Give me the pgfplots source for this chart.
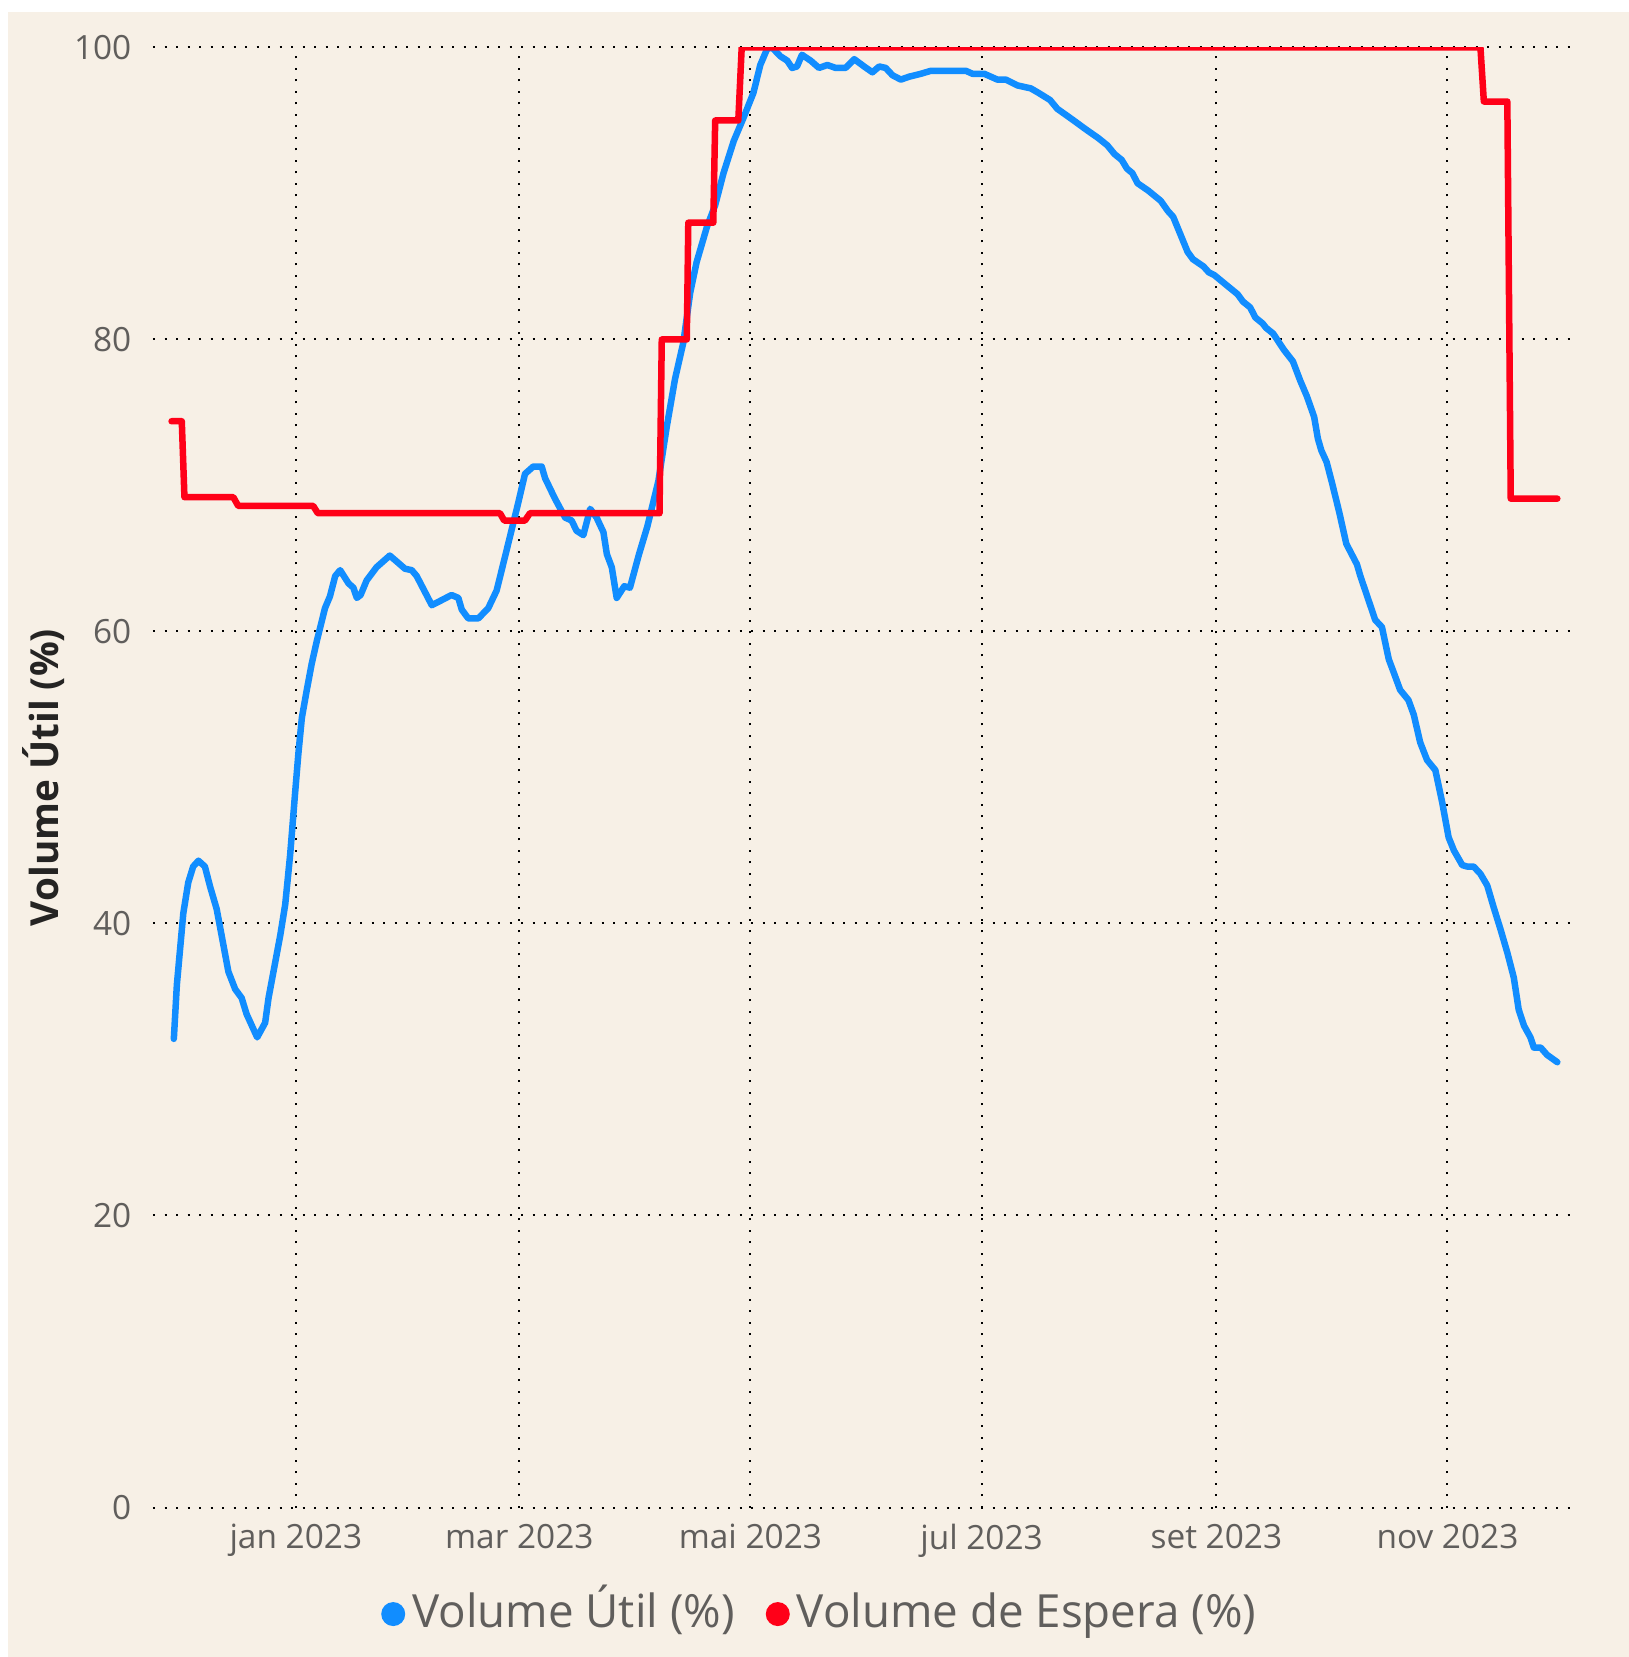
\documentclass[border=0pt]{standalone}
\usepackage{fontspec}
\setmainfont{Open Sans}
\usepackage{pgfplots}
\pgfplotsset{compat=1.18}
\definecolor{bgbeige}{HTML}{F7F0E6}
\definecolor{pbblue}{HTML}{118DFF}
\definecolor{pbred}{HTML}{FF0018}
\definecolor{ticktext}{HTML}{605E5C}
\definecolor{titletext}{HTML}{252423}
\begin{document}
\begin{tikzpicture}[x=1mm,y=1mm]
\fill[white] (0,0) rectangle (162.9,165.7);
\fill[bgbeige] (0.8,0) rectangle (162.9,164.5);
\begin{axis}[
  at={(15.3mm,14.95mm)}, anchor=south west,
  scale only axis, width=142.1mm, height=146mm,
  xmin=-37.7, xmax=337.4, ymin=0, ymax=100,
  axis line style={draw=none},
  major tick length=0pt,
  xtick={0,59,120,181,243,304},
  xticklabels={jan 2023,mar 2023,mai 2023,jul 2023,set 2023,nov 2023},
  ytick={0,20,40,60,80,100},
  /pgf/number format/assume math mode=true,
  tick label style={font=\fontsize{9.5pt}{11pt}\selectfont, text=ticktext},
  yticklabel style={anchor=east, inner sep=0pt, xshift=-2.1mm},
  xticklabel style={anchor=north, inner sep=0pt, yshift=-1.6mm},
  grid=major,
  major grid style={black, line width=0.2mm, line cap=butt, dash pattern=on 0.2mm off 0.95mm},
  ylabel={Volume Útil (\%)},
  ylabel style={at={(axis description cs:-0.0767,0.5)}, anchor=center, font=\fontsize{11pt}{13pt}\selectfont\bfseries, text=titletext},
  legend columns=2,
  legend style={at={(axis description cs:0.471,-0.073)}, anchor=center, draw=none, fill=none,
    font=\fontsize{13pt}{16pt}\selectfont, text=ticktext,
    nodes={text height=1em, text depth=0.25em},
    /tikz/every even column/.append style={column sep=2.4mm},
    /tikz/every odd column/.append style={column sep=0mm}},
  legend image code/.code={\fill[#1, draw=none] (1.3mm,0mm) circle (1.2mm);},
  legend cell align=left,
]
\addplot[pbblue, line width=1.85pt, line join=round, line cap=round] coordinates {
(-32.2,32.1) (-31.4,35.8) (-29.7,40.7) (-28.4,42.8) (-27.1,43.9) (-25.7,44.3) (-24.0,43.9) (-22.6,42.5)
(-20.9,41.0) (-19.6,39.2) (-17.8,36.7) (-16.0,35.5) (-14.3,34.9) (-13.0,33.8) (-10.2,32.2) (-8.1,33.2)
(-7.2,34.9) (-5.9,36.7) (-4.1,39.2) (-2.8,41.3) (-1.5,44.7) (-0.2,48.9) (0.7,51.7) (1.6,54.1)
(2.9,56.0) (4.2,57.8) (5.5,59.3) (7.7,61.6) (9.0,62.4) (10.4,63.8) (11.7,64.2) (13.9,63.3)
(15.2,63.0) (16.1,62.3) (17.1,62.5) (18.7,63.5) (21.3,64.4) (24.8,65.2) (26.6,64.8) (28.8,64.3)
(30.6,64.2) (31.9,63.8) (35.9,61.8) (38.9,62.2) (41.1,62.5) (42.9,62.3) (43.8,61.5) (45.5,60.9)
(48.2,60.9) (50.8,61.6) (53.0,62.8) (55.2,65.1) (57.0,67.0) (58.7,68.8) (60.5,70.8) (62.7,71.3)
(64.9,71.3) (65.8,70.5) (68.4,69.1) (71.1,67.8) (72.8,67.6) (74.1,66.9) (75.9,66.6) (77.7,68.4)
(79.4,67.8) (81.2,66.8) (82.1,65.3) (83.4,64.4) (84.7,62.3) (86.7,63.1) (88.2,63.0) (90.6,65.3)
(92.8,67.2) (95.7,70.3) (97.9,74.0) (100.1,77.3) (102.3,79.8) (104.1,83.2) (105.8,85.3) (108.5,87.7)
(110.7,89.2) (112.9,91.4) (115.6,93.6) (118.2,95.2) (120.8,96.9) (122.6,98.8) (124.4,99.9) (125.7,100)
(127.9,99.4) (129.7,99.1) (131.0,98.6) (132.3,98.7) (133.6,99.5) (135.9,99.1) (138.1,98.6) (140.3,98.8)
(142.5,98.6) (145.1,98.6) (147.4,99.2) (150.0,98.7) (152.2,98.3) (154.0,98.7) (155.7,98.6) (157.5,98.1)
(159.7,97.8) (161.9,98.0) (165.0,98.2) (167.6,98.4) (176.9,98.4) (178.6,98.2) (181.7,98.2) (185.2,97.8)
(187.4,97.8) (190.5,97.4) (194.0,97.2) (196.0,96.9) (199.1,96.4) (201.0,95.8) (204.8,95.1) (208.5,94.4)
(211.8,93.8) (214.2,93.3) (216.1,92.7) (218.0,92.3) (219.4,91.7) (220.8,91.4) (222.2,90.7) (225.0,90.2)
(228.3,89.5) (230.2,88.8) (231.6,88.4) (233.5,87.2) (235.4,86.0) (236.8,85.5) (239.6,85.0) (241.0,84.6)
(242.5,84.4) (245.3,83.8) (248.6,83.1) (250.0,82.6) (251.9,82.2) (253.3,81.5) (255.2,81.1) (256.1,80.8)
(258.0,80.4) (260.8,79.3) (263.2,78.5) (265.1,77.2) (266.9,76.1) (268.8,74.7) (269.8,73.2) (270.7,72.4)
(272.1,71.6) (273.5,70.2) (275.4,68.2) (277.3,66.0) (278.7,65.3) (280.1,64.6) (281.0,63.8) (282.7,62.5)
(284.0,61.5) (284.9,60.8) (286.7,60.3) (288.5,58.1) (289.8,57.2) (291.5,56.0) (293.7,55.3) (295.1,54.3)
(296.8,52.4) (298.6,51.2) (300.8,50.5) (302.6,48.3) (304.3,45.9) (305.7,45.0) (307.9,44.0) (309.2,43.9)
(310.9,43.9) (312.7,43.4) (314.5,42.6) (316.2,41.1) (318.0,39.6) (319.8,38.0) (321.5,36.3) (322.8,34.1)
(324.2,33.0) (325.9,32.2) (326.8,31.5) (328.6,31.5) (330.3,31.0) (333.0,30.5)
};
\addlegendentry{Volume Útil (\%)}
\addplot[pbred, line width=1.85pt, line join=round, line cap=round] coordinates {
(-32.8,74.4) (-30.1,74.4) (-29.4,69.2) (-16.5,69.2) (-15.2,68.6) (4.6,68.6) (5.8,68.1) (53.9,68.1)
(55.0,67.6) (60.5,67.6) (61.8,68.1) (96.0,68.1) (96.6,80) (103.2,80) (103.6,88) (110.2,88)
(110.7,95) (116.8,95) (117.7,100) (312.7,100) (313.6,96.3) (319.8,96.3) (320.7,69.1) (333.0,69.1)
};
\addlegendentry{Volume de Espera (\%)}
\end{axis}
\pgfresetboundingbox
\useasboundingbox (0,0) rectangle (162.9,165.7);
\end{tikzpicture}
\end{document}
